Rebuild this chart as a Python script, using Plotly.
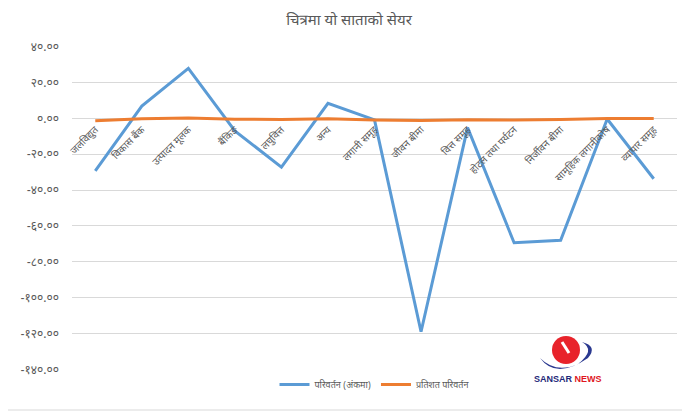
import plotly.graph_objects as go

categories = ["जलविद्युत", "विकास बैंक", "उत्पादन मूलक", "बैंकिङ", "लघुवित्त", "अन्य",
              "लगानी समूह", "जीवन बीमा", "वित्त समूह", "होटल तथा पर्यटन", "निर्जीवन बीमा",
              "सामूहिक लगानीकोष", "व्यापार समूह"]
change_points = [-29.3, 6.8, 27.8, -7.0, -27.2, 8.3, -0.9, -119.0, -5.2, -69.4, -68.0, -0.4, -33.7]
change_percent = [-1.3, -0.2, 0.1, -0.5, -0.6, -0.2, -0.9, -1.2, -0.8, -1.0, -0.6, -0.1, -0.1]
series_names = ["परिवर्तन (अंकमा)", "प्रतिशत परिवर्तन"]
tick_values = [40, 20, 0, -20, -40, -60, -80, -100, -120, -140]
tick_labels = ["४०.००", "२०.००", "०.००", "-२०.००", "-४०.००", "-६०.००", "-८०.००", "-१००.००", "-१२०.००", "-१४०.००"]
title_text = "चित्रमा यो साताको सेयर"

y_min, y_max = -140, 40
FONT = "Noto Sans Devanagari, Lohit Devanagari, Mangal, Noto Sans, sans-serif"
GREY = "#595959"

W, H = 682, 404
L, R, T, B = 64, 13, 38, 42
PW, PH = W - L - R, H - T - B


def px(x):
    return (x - L) / PW


def py(y):
    return (T + PH - y) / PH


fig = go.Figure()
fig.add_trace(go.Scatter(x=categories, y=change_points, mode="lines", name=series_names[0],
                         line=dict(color="#5B9BD5", width=3)))
fig.add_trace(go.Scatter(x=categories, y=change_percent, mode="lines", name=series_names[1],
                         line=dict(color="#ED7D31", width=3)))

zero_pos = (0 - y_min) / (y_max - y_min)

fig.update_layout(
    width=W, height=H,
    margin=dict(l=L, r=R, t=T, b=B, autoexpand=False),
    paper_bgcolor="white", plot_bgcolor="white",
    font=dict(family=FONT, color=GREY, size=10),
    title=dict(text=title_text, x=0.5, xref="container", y=1 - 12 / H, yanchor="middle",
               font=dict(size=15, color=GREY, family=FONT), automargin=False),
    showlegend=True,
    legend=dict(orientation="h", x=0.5, xanchor="center", y=0.0, yanchor="top",
                itemwidth=30, font=dict(size=9, color=GREY), bgcolor="rgba(0,0,0,0)"),
    xaxis=dict(type="category", range=[-0.5, len(categories) - 0.5], showgrid=False,
               showline=False, zeroline=False, ticks="", tickangle=-45,
               anchor="free", position=zero_pos, automargin=False, ticklabelstandoff=3,
               tickfont=dict(size=10, color=GREY, family=FONT)),
    yaxis=dict(range=[y_min - 0.3, y_max + 0.3], tickvals=tick_values, ticktext=tick_labels,
               showgrid=True, gridcolor="#D9D9D9", gridwidth=1, zeroline=False,
               showline=False, ticks="", ticklabelstandoff=12, automargin=False,
               tickfont=dict(size=12, color=GREY, family=FONT)),
    shapes=[
        dict(type="rect", xref="paper", yref="paper",
             x0=px(-7), x1=px(680), y0=py(402), y1=py(-7),
             line=dict(color="#D9D9D9", width=1), fillcolor="rgba(0,0,0,0)", layer="below"),
        # logo: red globe with blue swoosh
        dict(type="circle", xref="paper", yref="paper",
             x0=px(544), x1=px(572), y0=py(356), y1=py(328),
             line=dict(width=0), fillcolor="#E8232B"),
        dict(type="path", xref="paper", yref="paper",
             path=(f"M {px(532)},{py(350)} Q {px(548)},{py(372)} {px(580)},{py(350)} "
                   f"Q {px(590)},{py(338)} {px(574)},{py(334)} "
                   f"Q {px(588)},{py(342)} {px(570)},{py(356)} "
                   f"Q {px(548)},{py(366)} {px(532)},{py(350)} Z"),
             line=dict(width=0), fillcolor="#2B3990"),
        dict(type="line", xref="paper", yref="paper",
             x0=px(554), x1=px(561), y0=py(334), y1=py(345),
             line=dict(color="white", width=3)),
    ],
    annotations=[dict(text="<b><span style='color:#1F2A7A'>SANSAR</span> <span style='color:#E0161E'>NEWS</span></b>",
                      xref="paper", yref="paper", x=px(560), y=py(371),
                      xanchor="center", yanchor="middle",
                      showarrow=False, font=dict(size=9, family="Liberation Sans Narrow, Arial"))],
)

fig.write_html("out.html")
